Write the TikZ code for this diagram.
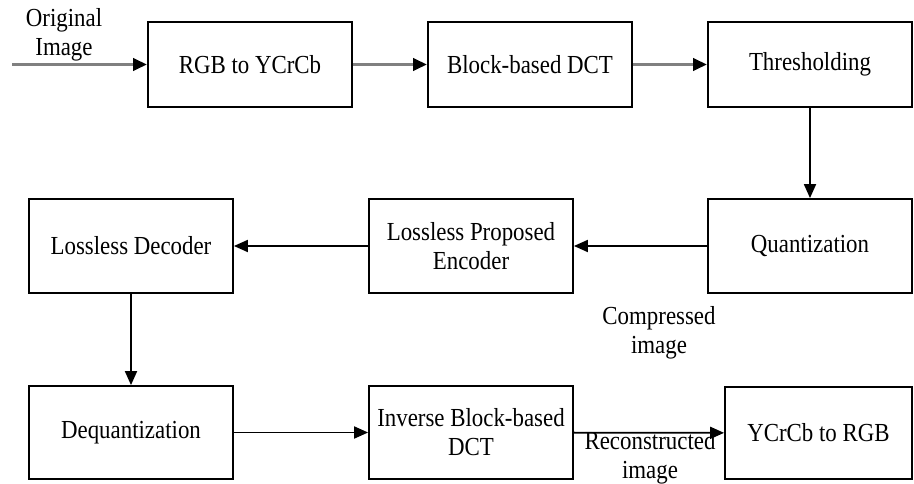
\documentclass[tikz,border=0pt]{standalone}
\usepackage{fontspec}
\setmainfont{Liberation Serif}[FakeStretch=0.88]
\usetikzlibrary{arrows.meta}
\tikzset{
  blk/.style={draw=black, line width=1.8pt, fill=white, minimum width=204pt, inner sep=2pt, align=center, font=\fontsize{26}{29}\selectfont},
  lbl/.style={align=center, inner sep=0pt, font=\fontsize{26}{29}\selectfont},
  grayarr/.style={draw=black!50, line width=3.5pt, -{Triangle[length=14pt,width=12pt,color=black]}},
  blkarr/.style={draw=black, line width=1.8pt, -{Triangle[length=14pt,width=12pt]}},
}
\begin{document}
\begin{tikzpicture}[x=1pt,y=-1pt]
\useasboundingbox (0,0) rectangle (914,484);
\node[blk, minimum height=85pt] (rgb) at (250,64.5) {RGB to YCrCb};
\node[blk, minimum height=85pt] (dct) at (530,64.5) {Block-based DCT};
\node[blk, minimum height=85pt] (thr) at (810,64.5) {Thresholding};
\node[blk, minimum height=94pt] (qua) at (810,246) {Quantization};
\node[blk, minimum height=94pt] (enc) at (471,246) {Lossless Proposed\\Encoder};
\node[blk, minimum height=94pt] (dec) at (131,246) {Lossless Decoder};
\node[blk, minimum height=93pt] (deq) at (131,432.5) {Dequantization};
\node[blk, minimum height=93pt] (inv) at (471,432.5) {Inverse Block-based\\DCT};
\node[blk, minimum height=92pt, minimum width=187pt] (ycc) at (818.5,433) {YCrCb to RGB};
\coordinate (in) at (12,64.5);
\node[lbl] (orig) at (64,35) {Original\\Image};
\node[lbl] (comp) at (659,333) {Compressed\\image};
\node[lbl] (rec) at (650,458) {Reconstructed\\image};
\draw[grayarr] (in) -- (rgb.west);
\draw[grayarr] (rgb) -- (dct);
\draw[grayarr] (dct) -- (thr);
\draw[blkarr] (thr) -- (qua);
\draw[blkarr] (qua) -- (enc);
\draw[blkarr] (enc) -- (dec);
\draw[blkarr] (dec) -- (deq);
\draw[blkarr] (deq) -- (inv);
\draw[blkarr] (inv) -- (ycc);
\end{tikzpicture}
\end{document}
